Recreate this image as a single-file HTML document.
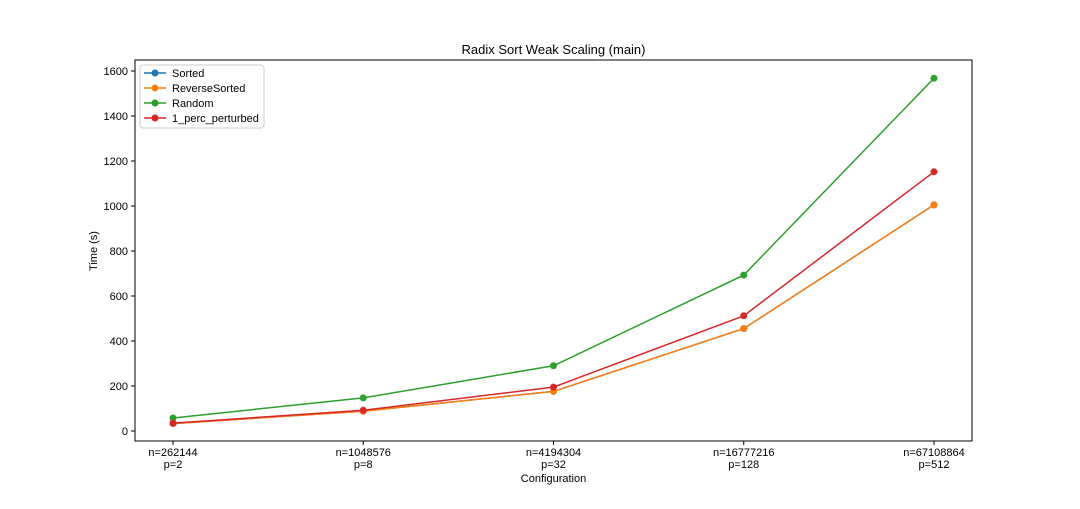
<!DOCTYPE html>
<html><head><meta charset="utf-8"><style>
body{margin:0;background:#fff;font-family:"Liberation Sans","DejaVu Sans",sans-serif}
svg text{font-family:"Liberation Sans","DejaVu Sans",sans-serif;font-size:11px;fill:#000}
</style></head><body>
<svg id="chart" width="1080" height="504">
<rect x="135" y="60" width="837" height="381" fill="#fff" stroke="#000" stroke-width="1"/>
<text x="553.5" y="54" text-anchor="middle" style="font-size:13px">Radix Sort Weak Scaling (main)</text>
<text x="553.5" y="482" text-anchor="middle">Configuration</text>
<text transform="translate(97,251) rotate(-90)" text-anchor="middle">Time (s)</text>
<g id="axes"></g><g id="series"></g><g id="legend"></g>
</svg>
<script>
const categories=["n=262144\np=2","n=1048576\np=8","n=4194304\np=32","n=16777216\np=128","n=67108864\np=512"];
const yTicks=[0,200,400,600,800,1000,1200,1400,1600];
const seriesNames=["Sorted","ReverseSorted","Random","1_perc_perturbed"];
const seriesColors=["#1f77b4","#ff7f0e","#2ca02c","#d62728"];
const sortedVals=[33,88,176,455,1005];
const reverseVals=[33,88,176,455,1005];
const randomVals=[58,147,290,693,1568];
const perturbedVals=[35,92,195,512,1152];
const allSeries=[sortedVals,reverseVals,randomVals,perturbedVals];
const NS="http://www.w3.org/2000/svg";
const xs=i=>173+i*(934-173)/(categories.length-1);
const ys=v=>431-v*0.225;
function mk(t,a,p){const e=document.createElementNS(NS,t);for(const k in a)e.setAttribute(k,a[k]);p.appendChild(e);return e;}
const axes=document.getElementById('axes');
yTicks.forEach(v=>{
 const g=mk('g',{},axes);
 
 
 mk('line',{x1:131,x2:135,y1:ys(v),y2:ys(v),stroke:'#000'},g);
 const t=mk('text',{x:128,y:ys(v)+4,'text-anchor':'end'},g);t.textContent=v;
});
categories.forEach((c,i)=>{
 const g=mk('g',{},axes);
 
 
 mk('line',{x1:xs(i),x2:xs(i),y1:441,y2:445,stroke:'#000'},g);
 c.split('\n').forEach((l,j)=>{const t=mk('text',{x:xs(i),y:456+j*12,'text-anchor':'middle'},g);t.textContent=l;});
});
const sg=document.getElementById('series');
allSeries.forEach((vals,s)=>{
 const g=mk('g',{},sg);
 
 
 mk('polyline',{points:vals.map((v,i)=>xs(i)+','+ys(v)).join(' '),fill:'none',stroke:seriesColors[s],'stroke-width':1.5},g);
 vals.forEach((v,i)=>{const c=mk('circle',{cx:xs(i),cy:ys(v),r:3.5,fill:seriesColors[s]},g);
  
  });
});
const lg=document.getElementById('legend');
const box=mk('rect',{x:140,y:65,width:124,height:63,fill:'#fff',stroke:'#ccc',rx:3},lg);


seriesNames.forEach((n,s)=>{
 const g=mk('g',{},lg);
 
 
 const y=73+s*15;
 mk('line',{x1:144,x2:166,y1:y,y2:y,stroke:seriesColors[s],'stroke-width':1.5},g);
 mk('circle',{cx:155,cy:y,r:3.5,fill:seriesColors[s]},g);
 const t=mk('text',{x:172,y:y+4},g);t.textContent=n;
});
</script>
</body></html>
